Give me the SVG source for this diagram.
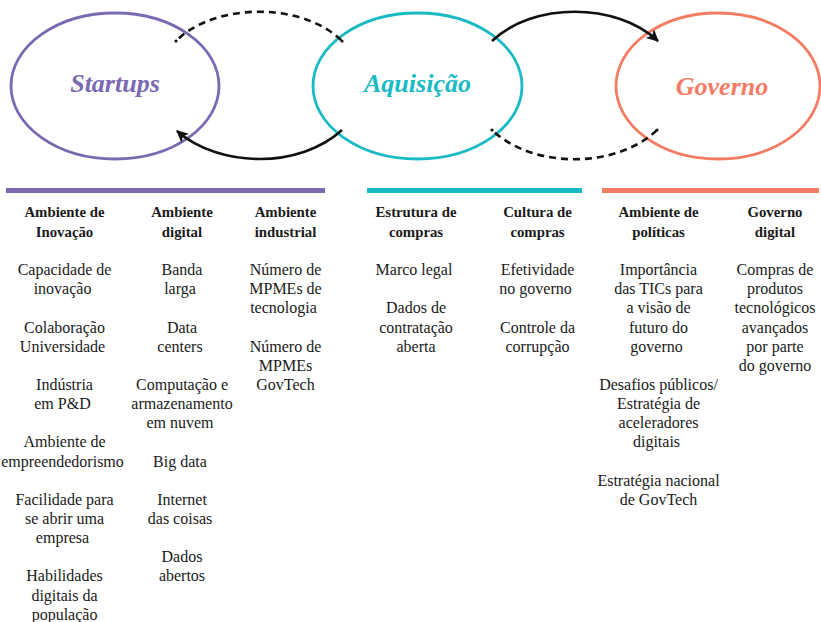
<svg xmlns="http://www.w3.org/2000/svg" width="821" height="622" viewBox="0 0 821 622">
<style>
.title{font-weight:bold;font-style:italic;font-size:26px;text-anchor:middle}
.hd{font-weight:bold;font-size:14.8px;text-anchor:middle;fill:#1a1a1a}
.bd{font-size:16px;text-anchor:middle;fill:#1a1a1a}
.ell{fill:none;stroke-width:2.8}
.solid{fill:none;stroke:#111;stroke-width:2.6}
.dash{fill:none;stroke:#111;stroke-width:2.6;stroke-dasharray:7 5;stroke-dashoffset:-4}
</style>
<defs>
<marker id="ah" viewBox="0 0 12 12" refX="11" refY="6" markerWidth="12" markerHeight="12" markerUnits="userSpaceOnUse" orient="auto">
<path d="M0,0 L12,6 L0,12 L3,6 z" fill="#111"/>
</marker>
</defs>
<rect width="821" height="622" fill="#fff"/>

<g id="startups">
<ellipse class="ell" cx="115" cy="86" rx="104" ry="73" stroke="#7b6ab1"/>
<text class="title" x="115" y="92" fill="#7b6ab1" font-family="'Liberation Serif', serif">Startups</text>
</g>
<g id="aquisicao">
<ellipse class="ell" cx="417.5" cy="86" rx="104.5" ry="73" stroke="#18bac3"/>
<text class="title" x="417.5" y="92" fill="#18bac3" font-family="'Liberation Serif', serif">Aquisição</text>
</g>
<g id="governo">
<ellipse class="ell" cx="718" cy="86" rx="102" ry="73" stroke="#f47c63"/>
<text class="title" x="722" y="95" fill="#f47c63" font-family="'Liberation Serif', serif">Governo</text>
</g>

<g id="connectors">
<path class="dash" d="M176,41 C215,2 303,2 342,41"/>
<circle cx="176" cy="41" r="1.6" fill="#111"/>
<circle cx="342" cy="41" r="1.6" fill="#111"/>
<path class="solid" d="M342,130 C300,168.5 220,168.5 177,131" marker-end="url(#ah)"/>
<path class="solid" d="M492,41 C533,2 616,2 658,41" marker-end="url(#ah)"/>
<path class="dash" d="M492,130 C533,169 616,169 657,130"/>
<circle cx="492" cy="130" r="1.6" fill="#111"/>
<circle cx="657" cy="130" r="1.6" fill="#111"/>
</g>

<g id="bars">
<rect x="6" y="188" width="319" height="5" fill="#7b6ab1"/>
<rect x="367" y="188" width="215" height="5" fill="#18bac3"/>
<rect x="602" y="188" width="217" height="5" fill="#f47c63"/>
</g>

<g id="col-inovacao">
<text class="hd" font-family="'Liberation Serif', serif"><tspan x="64.5" y="217">Ambiente de</tspan><tspan x="64.5" y="236.5">Inovação</tspan></text>
<text class="bd" font-family="'Liberation Serif', serif">
<tspan x="64.5" y="275">Capacidade de</tspan><tspan x="64.5" y="294.2">inovação</tspan>
<tspan x="64.5" y="332.5">Colaboração</tspan><tspan x="64.5" y="351.6">Universidade</tspan>
<tspan x="64.5" y="389.9">Indústria</tspan><tspan x="64.5" y="409.1">em P&amp;D</tspan>
<tspan x="64.5" y="447.4">Ambiente de</tspan><tspan x="64.5" y="466.5">empreendedorismo</tspan>
<tspan x="64.5" y="504.8">Facilidade para</tspan><tspan x="64.5" y="524">se abrir uma</tspan><tspan x="64.5" y="543.1">empresa</tspan>
<tspan x="64.5" y="581.4">Habilidades</tspan><tspan x="64.5" y="600.6">digitais da</tspan><tspan x="64.5" y="619.7">população</tspan>
</text>
</g>

<g id="col-digital">
<text class="hd" font-family="'Liberation Serif', serif"><tspan x="182" y="217">Ambiente</tspan><tspan x="182" y="236.5">digital</tspan></text>
<text class="bd" font-family="'Liberation Serif', serif">
<tspan x="182" y="275">Banda</tspan><tspan x="182" y="294.2">larga</tspan>
<tspan x="182" y="332.5">Data</tspan><tspan x="182" y="351.6">centers</tspan>
<tspan x="182" y="389.9">Computação e</tspan><tspan x="182" y="409.1">armazenamento</tspan><tspan x="182" y="428.2">em nuvem</tspan>
<tspan x="182" y="466.5">Big data</tspan>
<tspan x="182" y="504.8">Internet</tspan><tspan x="182" y="524">das coisas</tspan>
<tspan x="182" y="562.3">Dados</tspan><tspan x="182" y="581.4">abertos</tspan>
</text>
</g>

<g id="col-industrial">
<text class="hd" font-family="'Liberation Serif', serif"><tspan x="285.5" y="217">Ambiente</tspan><tspan x="285.5" y="236.5">industrial</tspan></text>
<text class="bd" font-family="'Liberation Serif', serif">
<tspan x="285.5" y="275">Número de</tspan><tspan x="285.5" y="294.2">MPMEs de</tspan><tspan x="285.5" y="313.3">tecnologia</tspan>
<tspan x="285.5" y="351.6">Número de</tspan><tspan x="285.5" y="370.8">MPMEs</tspan><tspan x="285.5" y="389.9">GovTech</tspan>
</text>
</g>

<g id="col-estrutura">
<text class="hd" font-family="'Liberation Serif', serif"><tspan x="416" y="217">Estrutura de</tspan><tspan x="416" y="236.5">compras</tspan></text>
<text class="bd" font-family="'Liberation Serif', serif">
<tspan x="416" y="275">Marco legal</tspan>
<tspan x="416" y="313.3">Dados de</tspan><tspan x="416" y="332.5">contratação</tspan><tspan x="416" y="351.6">aberta</tspan>
</text>
</g>

<g id="col-cultura">
<text class="hd" font-family="'Liberation Serif', serif"><tspan x="537.5" y="217">Cultura de</tspan><tspan x="537.5" y="236.5">compras</tspan></text>
<text class="bd" font-family="'Liberation Serif', serif">
<tspan x="537.5" y="275">Efetividade</tspan><tspan x="537.5" y="294.2">no governo</tspan>
<tspan x="537.5" y="332.5">Controle da</tspan><tspan x="537.5" y="351.6">corrupção</tspan>
</text>
</g>

<g id="col-politicas">
<text class="hd" font-family="'Liberation Serif', serif"><tspan x="658.5" y="217">Ambiente de</tspan><tspan x="658.5" y="236.5">políticas</tspan></text>
<text class="bd" font-family="'Liberation Serif', serif">
<tspan x="658.5" y="275">Importância</tspan><tspan x="658.5" y="294.2">das TICs para</tspan><tspan x="658.5" y="313.3">a visão de</tspan><tspan x="658.5" y="332.5">futuro do</tspan><tspan x="658.5" y="351.6">governo</tspan>
<tspan x="658.5" y="389.9">Desafios públicos/</tspan><tspan x="658.5" y="409.1">Estratégia de</tspan><tspan x="658.5" y="428.2">aceleradores</tspan><tspan x="658.5" y="447.4">digitais</tspan>
<tspan x="658.5" y="485.7">Estratégia nacional</tspan><tspan x="658.5" y="504.8">de GovTech</tspan>
</text>
</g>

<g id="col-governo-digital">
<text class="hd" font-family="'Liberation Serif', serif"><tspan x="775" y="217">Governo</tspan><tspan x="775" y="236.5">digital</tspan></text>
<text class="bd" font-family="'Liberation Serif', serif">
<tspan x="775" y="275">Compras de</tspan><tspan x="775" y="294.2">produtos</tspan><tspan x="775" y="313.3">tecnológicos</tspan><tspan x="775" y="332.5">avançados</tspan><tspan x="775" y="351.6">por parte</tspan><tspan x="775" y="370.8">do governo</tspan>
</text>
</g>
</svg>
